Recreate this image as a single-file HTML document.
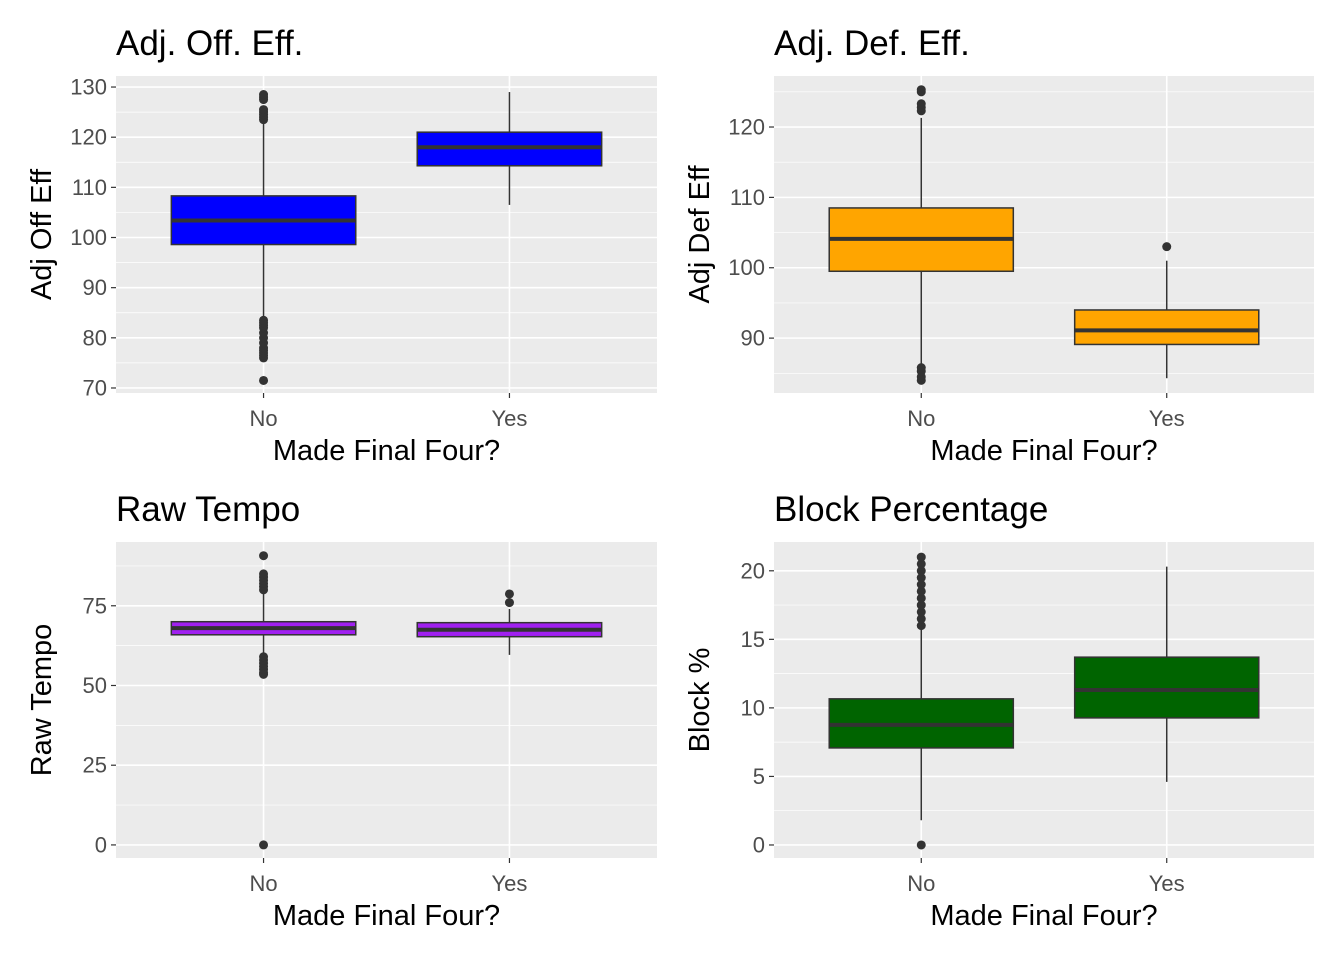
<!DOCTYPE html>
<html><head><meta charset="utf-8"><style>
body{margin:0;background:#fff;font-family:"Liberation Sans",Arial,sans-serif}
svg text{font-family:"Liberation Sans",Arial,sans-serif}
</style></head><body>
<svg id="c" width="1344" height="960"></svg>
<script>
const categories=["No","Yes"];
// panel 1: Adj Off Eff
const p1Box=[[84,98.6,103.4,108.3,123],[106.5,114.3,118,121,129]];
const p1Out=[[71.5,76,76.5,77,77.5,78,79,80,81,82,82.5,83,83.5,123.5,124,124.5,125,125.5,127.5,128,128.5],[]];
const p1Ticks=[70,80,90,100,110,120,130];
// panel 2: Adj Def Eff
const p2Box=[[86.2,99.5,104.1,108.5,121.3],[84.3,89.1,91.1,94,101]];
const p2Out=[[84,84.5,85.3,85.8,122.3,122.8,123.3,125,125.3],[103]];
const p2Ticks=[90,100,110,120];
// panel 3: Raw Tempo
const p3Box=[[60,65.9,68,70,79],[59.6,65.3,67.5,69.7,74]];
const p3Out=[[0,53.5,54,55,56,57,58,59,80,81,82,83,84,85,90.7],[76,78.7]];
const p3Ticks=[0,25,50,75];
// panel 4: Block %
const p4Box=[[1.8,7.08,8.76,10.66,15.9],[4.6,9.27,11.3,13.7,20.3]];
const p4Out=[[0,16,16.5,17,17.5,18,18.5,19,19.5,20,20.5,21],[]];
const p4Ticks=[0,5,10,15,20];

const NS="http://www.w3.org/2000/svg",svg=document.getElementById('c');
function el(t,a,p){const e=document.createElementNS(NS,t);for(const k in a)e.setAttribute(k,a[k]);(p||svg).appendChild(e);return e;}
function panel(o){
  const g=el('g',{});
  
  
  const {x0,x1,y0,y1,lo,hi}=o;
  const ys=v=>y1-(v-lo)/(hi-lo)*(y1-y0);
  const n=categories.length,unit=(x1-x0)/(n-1+1.2);
  const xs=i=>x0+unit*(0.6+i);
  el('rect',{x:x0,y:y0,width:x1-x0,height:y1-y0,fill:'#ebebeb'},g);
  const step=o.ticks[1]-o.ticks[0];
  for(let i=0;i<o.ticks.length+1;i++){const m=o.ticks[0]+step*(i-0.5);if(m>lo&&m<hi)el('line',{x1:x0,x2:x1,y1:ys(m),y2:ys(m),stroke:'#fff','stroke-width':0.7},g);}
  o.ticks.forEach(t=>{el('line',{x1:x0,x2:x1,y1:ys(t),y2:ys(t),stroke:'#fff','stroke-width':1.6},g);
    el('line',{x1:x0-5,x2:x0,y1:ys(t),y2:ys(t),stroke:'#333','stroke-width':1.2},g);
    const tx=el('text',{x:x0-9,y:ys(t)+7.5,'text-anchor':'end','font-size':22,fill:'#4d4d4d'},g);tx.textContent=t;
    });
  categories.forEach((c,i)=>{el('line',{x1:xs(i),x2:xs(i),y1:y0,y2:y1,stroke:'#fff','stroke-width':1.6},g);
    el('line',{x1:xs(i),x2:xs(i),y1:y1,y2:y1+5,stroke:'#333','stroke-width':1.2},g);
    const tx=el('text',{x:xs(i),y:y1+33,'text-anchor':'middle','font-size':22,fill:'#4d4d4d'},g);tx.textContent=c;
    
    const b=o.box[i],hw=unit*0.375;
    el('line',{x1:xs(i),x2:xs(i),y1:ys(b[0]),y2:ys(b[4]),stroke:'#333','stroke-width':1.5},g);
    const r=el('rect',{x:xs(i)-hw,y:ys(b[3]),width:2*hw,height:ys(b[1])-ys(b[3]),fill:o.color,stroke:'#333','stroke-width':1.5},g);
    
    el('line',{x1:xs(i)-hw,x2:xs(i)+hw,y1:ys(b[2]),y2:ys(b[2]),stroke:'#333','stroke-width':4},g);
    o.out[i].forEach(v=>{const cc=el('circle',{cx:xs(i),cy:ys(v),r:4.5,fill:'#333'},g);
      });
  });
  let t=el('text',{x:x0,y:y0-21,'font-size':35,fill:'#000'},g);t.textContent=o.title;
  
  t=el('text',{x:(x0+x1)/2,y:y1+67,'text-anchor':'middle','font-size':29,fill:'#000'},g);t.textContent='Made Final Four?';
  
  const cy=(y0+y1)/2;
  t=el('text',{x:o.ylx,y:cy,'text-anchor':'middle','font-size':29,fill:'#000',transform:`rotate(-90 ${o.ylx} ${cy})`},g);t.textContent=o.ylab;
  
}
panel({name:'panel-adj-off-eff',x0:116,x1:657,y0:76,y1:393,lo:69.0,hi:132.2,ticks:p1Ticks,box:p1Box,out:p1Out,color:'#0000ff',title:'Adj. Off. Eff.',ylab:'Adj Off Eff',ylx:51});
panel({name:'panel-adj-def-eff',x0:774,x1:1314,y0:76,y1:393,lo:82.2,hi:127.25,ticks:p2Ticks,box:p2Box,out:p2Out,color:'#ffa500',title:'Adj. Def. Eff.',ylab:'Adj Def Eff',ylx:709});
panel({name:'panel-raw-tempo',x0:116,x1:657,y0:542,y1:858,lo:-4.1,hi:95.0,ticks:p3Ticks,box:p3Box,out:p3Out,color:'#a020f0',title:'Raw Tempo',ylab:'Raw Tempo',ylx:51});
panel({name:'panel-block-pct',x0:774,x1:1314,y0:542,y1:858,lo:-0.95,hi:22.1,ticks:p4Ticks,box:p4Box,out:p4Out,color:'#006400',title:'Block Percentage',ylab:'Block %',ylx:709});
</script>
</body></html>
